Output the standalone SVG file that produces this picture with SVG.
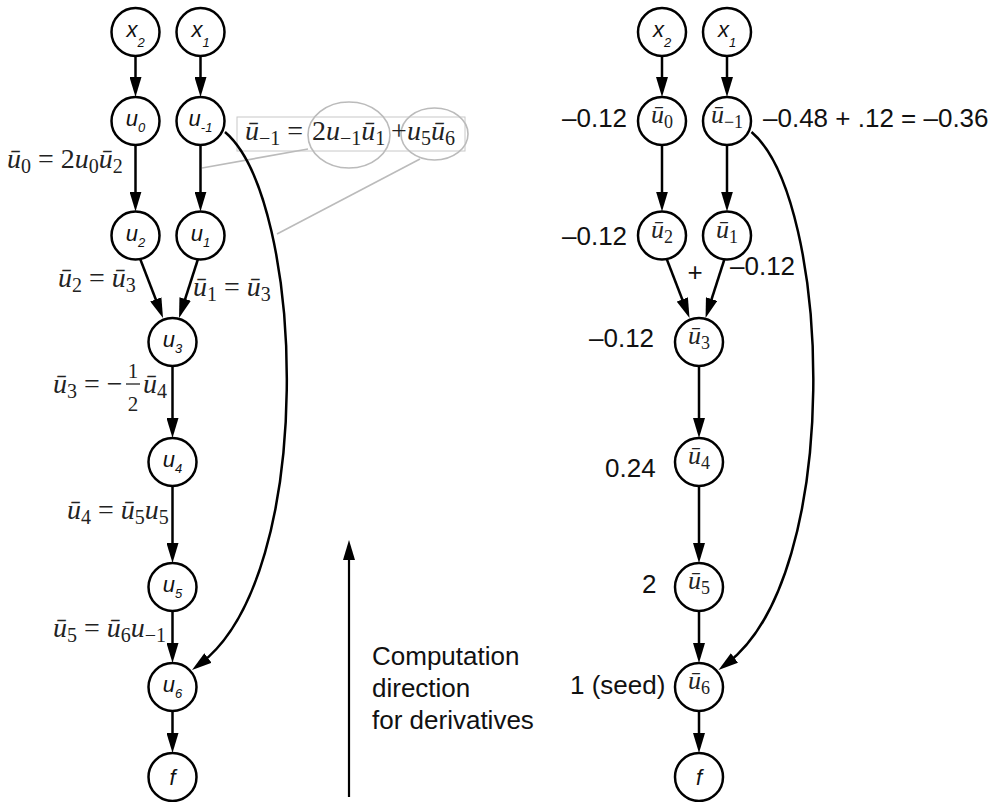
<svg xmlns="http://www.w3.org/2000/svg" width="996" height="802" viewBox="0 0 996 802">
<style>
.nd circle{fill:#fff;stroke:#000;stroke-width:2.5}
.lbl{font-family:"Liberation Sans",Arial,sans-serif;font-style:italic;font-size:22px;fill:#111}
.lbl .s{font-size:13px}
.rl{font-family:"Liberation Serif","Times New Roman",serif;font-size:26px;fill:#222}
.rl .s{font-size:18px}
.i{font-style:italic}
.eq{font-family:"Liberation Serif","Times New Roman",serif;font-size:28px;fill:#222}
.eq .s{font-size:20px}
.num{font-family:"Liberation Sans",Arial,sans-serif;font-size:26px;fill:#111}
.e{fill:none;stroke:#000;stroke-width:2.5;marker-end:url(#ah)}
.g{fill:none;stroke:#bbb;stroke-width:1.6}
</style>
<defs>
<marker id="ah" markerUnits="userSpaceOnUse" markerWidth="20" markerHeight="12" refX="10" refY="6" orient="auto"><path d="M0,0 L20,6 L0,12 z" fill="#000"/></marker>
</defs>

<g id="annotation">
<rect x="237" y="117" width="228" height="34" class="g" style="stroke:#c8c8c8;stroke-width:1"/>
<ellipse cx="349" cy="135" rx="41" ry="33" class="g"/>
<ellipse cx="434.5" cy="134" rx="33.5" ry="26" class="g"/>
<line x1="308" y1="149" x2="202" y2="168" class="g"/>
<line x1="420" y1="159" x2="277" y2="234" class="g"/>
</g>

<g id="connectors">
<line x1="135.5" y1="56" x2="135.5" y2="87" class="e"/>
<line x1="200.5" y1="56" x2="200.5" y2="87" class="e"/>
<line x1="135.5" y1="145" x2="135.5" y2="201.5" class="e"/>
<line x1="200.5" y1="145" x2="200.5" y2="201.5" class="e"/>
<line x1="140" y1="258.5" x2="159.4" y2="308.7" class="e"/>
<line x1="198" y1="259" x2="182.1" y2="308.5" class="e"/>
<line x1="172.5" y1="366" x2="172.5" y2="428" class="e"/>
<line x1="172.5" y1="486" x2="172.5" y2="553" class="e"/>
<line x1="172.5" y1="611" x2="172.5" y2="653" class="e"/>
<line x1="172.5" y1="711" x2="172.5" y2="743" class="e"/>
<path d="M225,132 C305,200 318,575 200,664" class="e"/>

<line x1="662" y1="56" x2="662" y2="87" class="e"/>
<line x1="727" y1="56" x2="727" y2="87" class="e"/>
<line x1="662" y1="145" x2="662" y2="201.5" class="e"/>
<line x1="727" y1="145" x2="727" y2="201.5" class="e"/>
<line x1="666.5" y1="258.5" x2="685.9" y2="308.7" class="e"/>
<line x1="724.5" y1="259" x2="708.6" y2="308.5" class="e"/>
<line x1="699" y1="366" x2="699" y2="428" class="e"/>
<line x1="699" y1="486" x2="699" y2="553" class="e"/>
<line x1="699" y1="611" x2="699" y2="653" class="e"/>
<line x1="699" y1="711" x2="699" y2="743" class="e"/>
<path d="M751.5,132 C831.5,200 844.5,575 726.5,664" class="e"/>

<line x1="349" y1="797" x2="349" y2="550" class="e" style="stroke-width:2.2"/>
</g>

<g id="L_x2" class="nd"><circle cx="135.5" cy="32" r="24"/><text x="135.5" y="37" class="lbl" text-anchor="middle">x<tspan class="s" dy="10">2</tspan></text></g>
<g id="L_x1" class="nd"><circle cx="200.5" cy="32" r="24"/><text x="200.5" y="37" class="lbl" text-anchor="middle">x<tspan class="s" dy="10">1</tspan></text></g>
<g id="L_u0" class="nd"><circle cx="135.5" cy="121" r="24"/><text x="135.5" y="126" class="lbl" text-anchor="middle">u<tspan class="s" dy="6">0</tspan></text></g>
<g id="L_um1" class="nd"><circle cx="200.5" cy="121" r="24"/><text x="200.5" y="126" class="lbl" text-anchor="middle">u<tspan class="s" dy="6">-1</tspan></text></g>
<g id="L_u2" class="nd"><circle cx="135.5" cy="235.5" r="24"/><text x="135.5" y="240.5" class="lbl" text-anchor="middle">u<tspan class="s" dy="6">2</tspan></text></g>
<g id="L_u1" class="nd"><circle cx="200.5" cy="235.5" r="24"/><text x="200.5" y="240.5" class="lbl" text-anchor="middle">u<tspan class="s" dy="6">1</tspan></text></g>
<g id="L_u3" class="nd"><circle cx="172.5" cy="342" r="24"/><text x="172.5" y="347" class="lbl" text-anchor="middle">u<tspan class="s" dy="6">3</tspan></text></g>
<g id="L_u4" class="nd"><circle cx="172.5" cy="462" r="24"/><text x="172.5" y="467" class="lbl" text-anchor="middle">u<tspan class="s" dy="6">4</tspan></text></g>
<g id="L_u5" class="nd"><circle cx="172.5" cy="587" r="24"/><text x="172.5" y="592" class="lbl" text-anchor="middle">u<tspan class="s" dy="6">5</tspan></text></g>
<g id="L_u6" class="nd"><circle cx="172.5" cy="687" r="24"/><text x="172.5" y="692" class="lbl" text-anchor="middle">u<tspan class="s" dy="6">6</tspan></text></g>
<g id="L_f" class="nd"><circle cx="172.5" cy="777" r="24"/><text x="172.5" y="785" class="lbl" text-anchor="middle">f</text></g>

<g id="R_x2" class="nd"><circle cx="662" cy="32" r="24"/><text x="662" y="37" class="lbl" text-anchor="middle">x<tspan class="s" dy="10">2</tspan></text></g>
<g id="R_x1" class="nd"><circle cx="727" cy="32" r="24"/><text x="727" y="37" class="lbl" text-anchor="middle">x<tspan class="s" dy="10">1</tspan></text></g>
<g id="R_u0" class="nd"><circle cx="662" cy="121" r="24"/><text x="662" y="123" class="rl" text-anchor="middle"><tspan class="i">ū</tspan><tspan class="s" dy="5">0</tspan></text></g>
<g id="R_um1" class="nd"><circle cx="727" cy="121" r="24"/><text x="727" y="123" class="rl" text-anchor="middle"><tspan class="i">ū</tspan><tspan class="s" dy="5">−1</tspan></text></g>
<g id="R_u2" class="nd"><circle cx="662" cy="235.5" r="24"/><text x="662" y="237.5" class="rl" text-anchor="middle"><tspan class="i">ū</tspan><tspan class="s" dy="5">2</tspan></text></g>
<g id="R_u1" class="nd"><circle cx="727" cy="235.5" r="24"/><text x="727" y="237.5" class="rl" text-anchor="middle"><tspan class="i">ū</tspan><tspan class="s" dy="5">1</tspan></text></g>
<g id="R_u3" class="nd"><circle cx="699" cy="342" r="24"/><text x="699" y="344" class="rl" text-anchor="middle"><tspan class="i">ū</tspan><tspan class="s" dy="5">3</tspan></text></g>
<g id="R_u4" class="nd"><circle cx="699" cy="462" r="24"/><text x="699" y="464" class="rl" text-anchor="middle"><tspan class="i">ū</tspan><tspan class="s" dy="5">4</tspan></text></g>
<g id="R_u5" class="nd"><circle cx="699" cy="587" r="24"/><text x="699" y="589" class="rl" text-anchor="middle"><tspan class="i">ū</tspan><tspan class="s" dy="5">5</tspan></text></g>
<g id="R_u6" class="nd"><circle cx="699" cy="687" r="24"/><text x="699" y="689" class="rl" text-anchor="middle"><tspan class="i">ū</tspan><tspan class="s" dy="5">6</tspan></text></g>
<g id="R_f" class="nd"><circle cx="699" cy="777" r="24"/><text x="699" y="785" class="lbl" text-anchor="middle">f</text></g>

<g id="equations">
<text x="7" y="168" class="eq"><tspan class="i">ū</tspan><tspan class="s" dy="5">0</tspan><tspan dy="-5"> = 2</tspan><tspan class="i">u</tspan><tspan class="s" dy="5">0</tspan><tspan class="i" dy="-5">ū</tspan><tspan class="s" dy="5">2</tspan></text>
<text x="245" y="140" class="eq"><tspan class="i">ū</tspan><tspan class="s" dy="5">−1</tspan><tspan dy="-5"> = </tspan><tspan x="312">2</tspan><tspan class="i">u</tspan><tspan class="s" dy="5">−1</tspan><tspan class="i" dy="-5">ū</tspan><tspan class="s" dy="5">1</tspan><tspan dy="-5" x="391">+</tspan><tspan class="i" x="407">u</tspan><tspan class="s" dy="5">5</tspan><tspan class="i" dy="-5">ū</tspan><tspan class="s" dy="5">6</tspan></text>
<text x="58" y="287" class="eq"><tspan class="i">ū</tspan><tspan class="s" dy="5">2</tspan><tspan dy="-5"> = </tspan><tspan class="i">ū</tspan><tspan class="s" dy="5">3</tspan></text>
<text x="193" y="296" class="eq"><tspan class="i">ū</tspan><tspan class="s" dy="5">1</tspan><tspan dy="-5"> = </tspan><tspan class="i">ū</tspan><tspan class="s" dy="5">3</tspan></text>
<text x="53" y="393" class="eq"><tspan class="i">ū</tspan><tspan class="s" dy="5">3</tspan><tspan dy="-5"> = −</tspan></text>
<text x="133" y="378" class="eq" style="font-size:21px" text-anchor="middle">1</text>
<line x1="126" y1="384" x2="140" y2="384" stroke="#222" stroke-width="1.3"/>
<text x="133" y="411" class="eq" style="font-size:21px" text-anchor="middle">2</text>
<text x="143" y="393" class="eq"><tspan class="i">ū</tspan><tspan class="s" dy="5">4</tspan></text>
<text x="67" y="519" class="eq"><tspan class="i">ū</tspan><tspan class="s" dy="5">4</tspan><tspan dy="-5"> = </tspan><tspan class="i">ū</tspan><tspan class="s" dy="5">5</tspan><tspan class="i" dy="-5">u</tspan><tspan class="s" dy="5">5</tspan></text>
<text x="53" y="637" class="eq"><tspan class="i">ū</tspan><tspan class="s" dy="5">5</tspan><tspan dy="-5"> = </tspan><tspan class="i">ū</tspan><tspan class="s" dy="5">6</tspan><tspan class="i" dy="-5">u</tspan><tspan class="s" dy="5">−1</tspan></text>
</g>

<g id="values">
<text x="562" y="127" class="num">–0.12</text>
<text x="763" y="127" class="num">–0.48 + .12 = –0.36</text>
<text x="562" y="245" class="num">–0.12</text>
<text x="695" y="281" class="num" text-anchor="middle">+</text>
<text x="730" y="275" class="num">–0.12</text>
<text x="589" y="347" class="num">–0.12</text>
<text x="605" y="477" class="num">0.24</text>
<text x="642" y="593" class="num">2</text>
<text x="570" y="694" class="num">1 (seed)</text>
</g>

<g id="caption">
<text x="372" y="665" class="num">Computation</text>
<text x="372" y="697" class="num">direction</text>
<text x="372" y="729" class="num">for derivatives</text>
</g>
</svg>
